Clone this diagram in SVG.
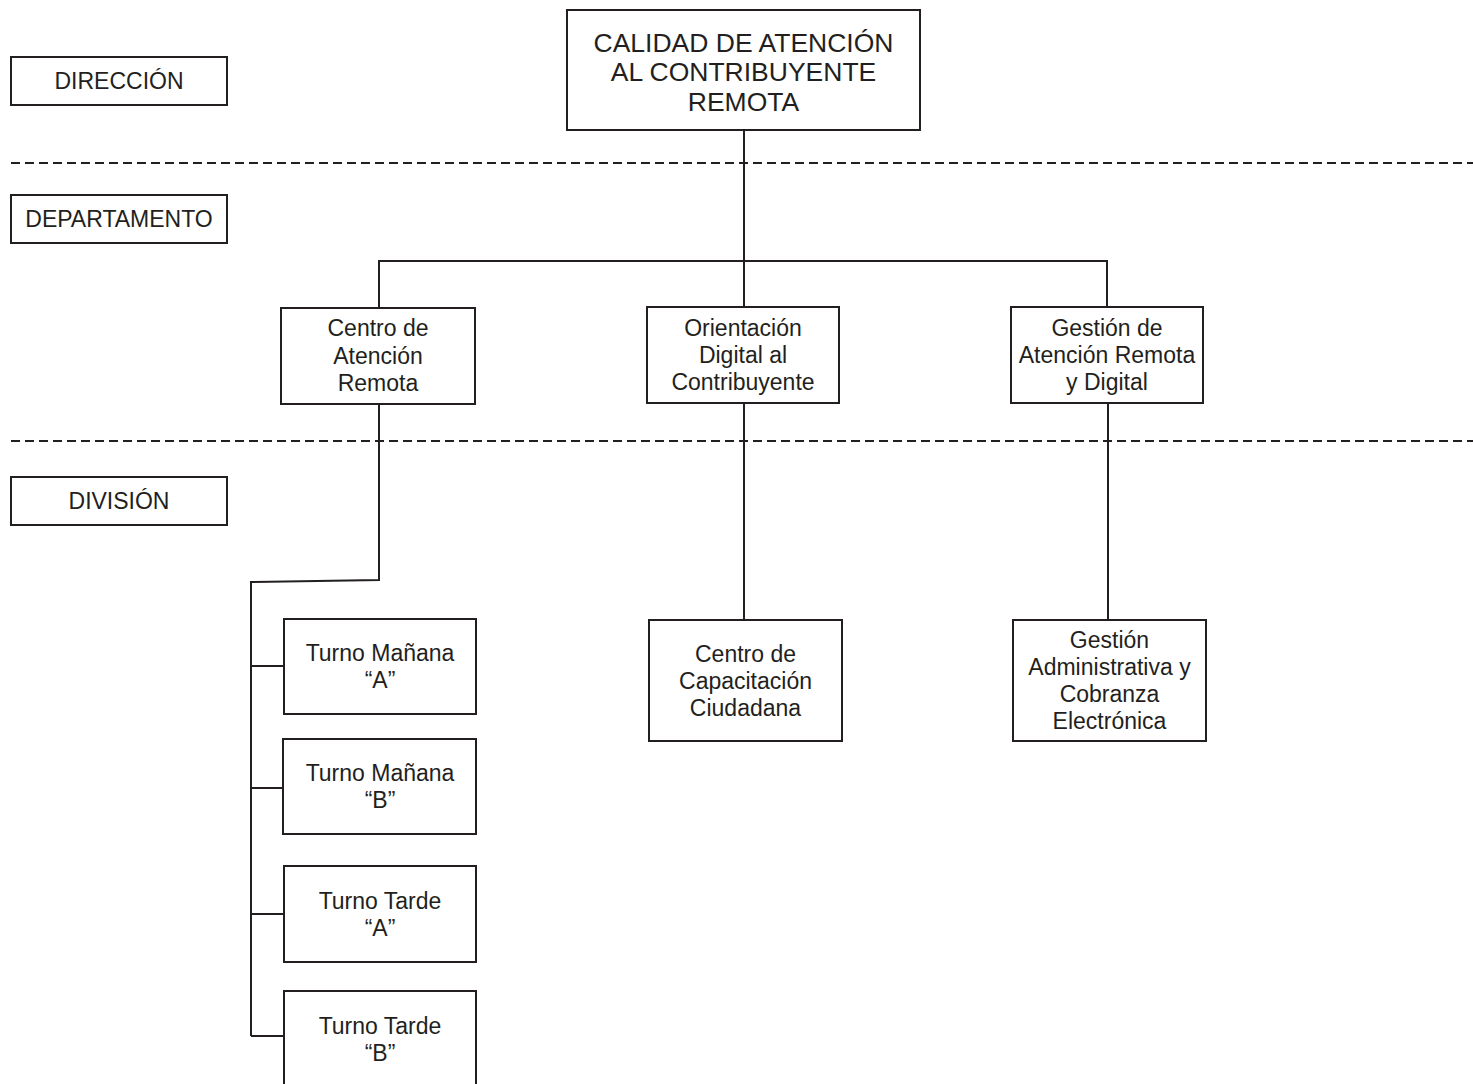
<svg xmlns="http://www.w3.org/2000/svg" width="1473" height="1084" viewBox="0 0 1473 1084">
  <style>
    .box { fill: #ffffff; stroke: #231f20; stroke-width: 2; }
    .wire { fill: none; stroke: #231f20; stroke-width: 2; }
    .level { fill: none; stroke: #231f20; stroke-width: 2; stroke-dasharray: 9 5; }
    text { font-family: "Liberation Sans", Arial, sans-serif; font-size: 23px; fill: #231f20; text-anchor: middle; }
    .big { font-size: 26.5px; }
  </style>
  <rect width="1473" height="1084" fill="#ffffff"/>

  <!-- level separators -->
  <g id="levels">
    <line class="level" x1="11" y1="163" x2="1473" y2="163"/>
    <line class="level" x1="11" y1="441" x2="1473" y2="441"/>
  </g>

  <!-- connectors -->
  <g id="connectors">
    <line class="wire" x1="744" y1="130" x2="744" y2="308"/>
    <polyline class="wire" points="379,308 379,261 1107,261 1107,308"/>
    <polyline class="wire" points="379,404 379,580 251,582 251,1036"/>
    <line class="wire" x1="251" y1="666" x2="284" y2="666"/>
    <line class="wire" x1="251" y1="788" x2="284" y2="788"/>
    <line class="wire" x1="251" y1="914" x2="284" y2="914"/>
    <line class="wire" x1="251" y1="1036" x2="284" y2="1036"/>
    <line class="wire" x1="744" y1="403" x2="744" y2="620"/>
    <line class="wire" x1="1108" y1="403" x2="1108" y2="620"/>
  </g>

  <!-- level labels -->
  <g id="label-direccion">
    <rect class="box" x="11" y="57" width="216" height="48"/>
    <text x="119" y="89">DIRECCIÓN</text>
  </g>
  <g id="label-departamento">
    <rect class="box" x="11" y="195" width="216" height="48"/>
    <text x="119" y="227">DEPARTAMENTO</text>
  </g>
  <g id="label-division">
    <rect class="box" x="11" y="477" width="216" height="48"/>
    <text x="119" y="509">DIVISIÓN</text>
  </g>

  <!-- direction -->
  <g id="calidad-atencion">
    <rect class="box" x="567" y="10" width="353" height="120"/>
    <text class="big" x="743.5" y="51.5">CALIDAD DE ATENCIÓN</text>
    <text class="big" x="743.5" y="81">AL CONTRIBUYENTE</text>
    <text class="big" x="743.5" y="110.5">REMOTA</text>
  </g>

  <!-- departments -->
  <g id="centro-atencion-remota">
    <rect class="box" x="281" y="308" width="194" height="96"/>
    <text x="378" y="336">Centro de</text>
    <text x="378" y="364">Atención</text>
    <text x="378" y="391">Remota</text>
  </g>
  <g id="orientacion-digital">
    <rect class="box" x="647" y="307" width="192" height="96"/>
    <text x="743" y="336">Orientación</text>
    <text x="743" y="363">Digital al</text>
    <text x="743" y="390">Contribuyente</text>
  </g>
  <g id="gestion-atencion-remota">
    <rect class="box" x="1011" y="307" width="192" height="96"/>
    <text x="1107" y="336">Gestión de</text>
    <text x="1107" y="363">Atención Remota</text>
    <text x="1107" y="390">y Digital</text>
  </g>

  <!-- divisions -->
  <g id="turno-manana-a">
    <rect class="box" x="284" y="619" width="192" height="95"/>
    <text x="380" y="661">Turno Mañana</text>
    <text x="380" y="688">“A”</text>
  </g>
  <g id="turno-manana-b">
    <rect class="box" x="283" y="739" width="193" height="95"/>
    <text x="380" y="781">Turno Mañana</text>
    <text x="380" y="808">“B”</text>
  </g>
  <g id="turno-tarde-a">
    <rect class="box" x="284" y="866" width="192" height="96"/>
    <text x="380" y="909">Turno Tarde</text>
    <text x="380" y="936">“A”</text>
  </g>
  <g id="turno-tarde-b">
    <rect class="box" x="284" y="991" width="192" height="110"/>
    <text x="380" y="1034">Turno Tarde</text>
    <text x="380" y="1061">“B”</text>
  </g>
  <g id="centro-capacitacion">
    <rect class="box" x="649" y="620" width="193" height="121"/>
    <text x="745.5" y="662">Centro de</text>
    <text x="745.5" y="689">Capacitación</text>
    <text x="745.5" y="716">Ciudadana</text>
  </g>
  <g id="gestion-administrativa">
    <rect class="box" x="1013" y="620" width="193" height="121"/>
    <text x="1109.5" y="648">Gestión</text>
    <text x="1109.5" y="675">Administrativa y</text>
    <text x="1109.5" y="702">Cobranza</text>
    <text x="1109.5" y="729">Electrónica</text>
  </g>
</svg>
